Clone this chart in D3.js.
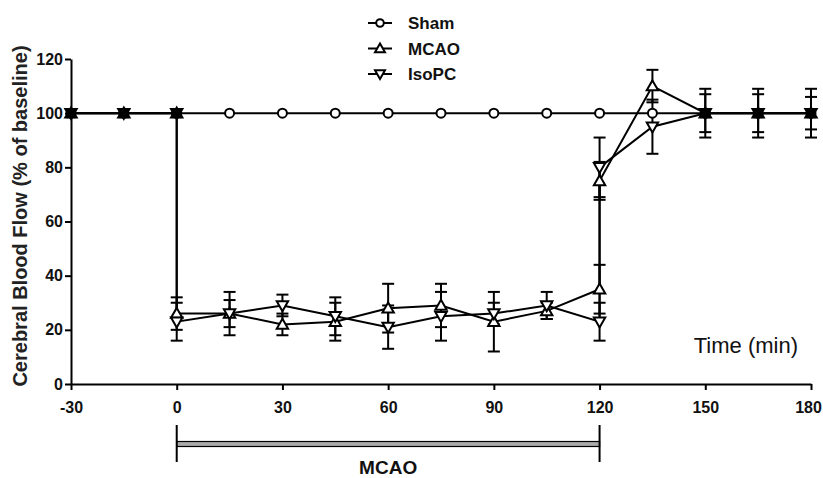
<!DOCTYPE html>
<html>
<head>
<meta charset="utf-8">
<script src="https://cdn.jsdelivr.net/npm/d3@7"></script>
<style>
  body { margin: 0; background: #fff; }
  svg { display: block; font-family: Arial, "Liberation Sans", sans-serif; }
</style>
</head>
<body>
<div id="chart"></div>
<script>
// time points (min); 0 and 120 appear twice for MCAO / IsoPC (before / after)
var shamTimes = [-30, -15, 0, 15, 30, 45, 60, 75, 90, 105, 120, 135, 150, 165, 180];
var shamMean  = [100, 100, 100, 100, 100, 100, 100, 100, 100, 100, 100, 100, 100, 100, 100];
var shamErr   = [0, 0, 0, 0, 0, 0, 0, 0, 0, 0, 0, 0, 0, 0, 0];

var ischTimes = [-30, -15, 0, 0, 15, 30, 45, 60, 75, 90, 105, 120, 120, 135, 150, 165, 180];
var mcaoMean  = [100, 100, 100, 26, 26, 22, 23, 28, 29, 23, 27, 35, 75, 110, 100, 100, 100];
var mcaoErr   = [0, 0, 0, 6, 5, 4, 7, 9, 8, 11, 3, 9, 7, 6, 7, 7, 6];
var isoMean   = [100, 100, 100, 23, 26, 29, 25, 21, 25, 26, 29, 23, 80, 95, 100, 100, 100];
var isoErr    = [0, 0, 0, 7, 8, 4, 7, 8, 9, 4, 5, 7, 11, 10, 9, 9, 9];

var xTicks = [-30, 0, 30, 60, 90, 120, 150, 180];
var yTicks = [0, 20, 40, 60, 80, 100, 120];
var mcaoPeriod = [0, 120];

var width = 823, height = 478;
var margin = {top: 59, right: 12, bottom: 94, left: 71};

var svg = d3.select('#chart').append('svg')
    .attr('width', width)
    .attr('height', height);

var x = d3.scaleLinear().domain([-30, 180]).range([margin.left, width - margin.right]);
var y = d3.scaleLinear().domain([0, 120]).range([height - margin.bottom, margin.top]);

function build(times, mean, err) {
    return times.map(function(t, i) { return {t: t, v: mean[i], e: err[i]}; });
}

var series = [
    {name: 'Sham', shape: 'circle', data: build(shamTimes, shamMean, shamErr)},
    {name: 'MCAO', shape: 'up', data: build(ischTimes, mcaoMean, mcaoErr)},
    {name: 'IsoPC', shape: 'down', data: build(ischTimes, isoMean, isoErr)}
];

// axes (plain hyphen for negatives, like the original)
var fmt = function(d) { return String(d); };
var yAxis = svg.append('g')
    .attr('transform', 'translate(' + margin.left + ',0)')
    .call(d3.axisLeft(y).tickValues(yTicks).tickFormat(fmt).tickSize(6).tickSizeOuter(0).tickPadding(2));
var xAxis = svg.append('g')
    .attr('transform', 'translate(0,' + y(0) + ')')
    .call(d3.axisBottom(x).tickValues(xTicks).tickFormat(fmt).tickSize(6).tickSizeOuter(0).tickPadding(12));

[xAxis, yAxis].forEach(function(a) {
    a.selectAll('path, line').attr('stroke', '#000').attr('stroke-width', 2);
    a.selectAll('text').attr('fill', '#111').style('font-size', '16px').style('font-weight', 'bold');
});
// last label sits against the right edge
xAxis.selectAll('.tick text')
    .filter(function(d) { return d === 180; })
    .attr('dx', -3);

// markers
function marker(g, shape, r) {
    if (shape === 'circle') {
        g.append('circle').attr('r', r);
    } else {
        var s = r + 1.2;
        var p = shape === 'up'
            ? [[0, -s], [s, s * 0.75], [-s, s * 0.75]]
            : [[0, s], [s, -s * 0.75], [-s, -s * 0.75]];
        g.append('path').attr('d', 'M' + p.join('L') + 'Z');
    }
    g.selectAll('circle, path')
        .attr('fill', '#fff')
        .attr('stroke', '#000')
        .attr('stroke-width', 2);
}

var line = d3.line()
    .x(function(d) { return x(d.t); })
    .y(function(d) { return y(d.v); });

var plot = svg.append('g');

series.forEach(function(s) {
    plot.append('path')
        .datum(s.data)
        .attr('d', line)
        .attr('fill', 'none')
        .attr('stroke', '#000')
        .attr('stroke-width', 2);
});

series.forEach(function(s) {
    var bars = plot.append('g').selectAll('g')
        .data(s.data.filter(function(d) { return d.e > 0; }))
        .join('g')
        .attr('stroke', '#000')
        .attr('stroke-width', 2);
    bars.append('line')
        .attr('x1', function(d) { return x(d.t); })
        .attr('x2', function(d) { return x(d.t); })
        .attr('y1', function(d) { return y(d.v + d.e); })
        .attr('y2', function(d) { return y(d.v - d.e); });
    [1, -1].forEach(function(k) {
        bars.append('line')
            .attr('x1', function(d) { return x(d.t) - 6; })
            .attr('x2', function(d) { return x(d.t) + 6; })
            .attr('y1', function(d) { return y(d.v + k * d.e); })
            .attr('y2', function(d) { return y(d.v + k * d.e); });
    });
});

series.forEach(function(s) {
    plot.append('g').selectAll('g')
        .data(s.data)
        .join('g')
        .attr('transform', function(d) { return 'translate(' + x(d.t) + ',' + y(d.v) + ')'; })
        .each(function() { marker(d3.select(this), s.shape, 4.5); });
});

// where all groups sit on the same baseline value the symbols merge into a filled square
var merged = shamTimes.filter(function(t, i) {
    return series.every(function(s) {
        return s.data.some(function(d) { return d.t === t && d.v === shamMean[i]; });
    });
});
plot.append('g').selectAll('rect')
    .data(merged)
    .join('rect')
    .attr('x', function(t) { return x(t) - 5; })
    .attr('y', y(100) - 5)
    .attr('width', 10)
    .attr('height', 10)
    .attr('fill', '#000');

// legend
var legend = svg.append('g').attr('transform', 'translate(368,23)');
var items = legend.selectAll('g')
    .data(series)
    .join('g')
    .attr('transform', function(d, i) { return 'translate(0,' + (i * 25.5) + ')'; });
items.append('line')
    .attr('x1', 0).attr('x2', 24)
    .attr('stroke', '#000').attr('stroke-width', 2);
items.append('g')
    .attr('transform', 'translate(12,0)')
    .each(function(d) { marker(d3.select(this), d.shape, 3.8); });
items.append('text')
    .attr('x', 40)
    .attr('dy', '0.36em')
    .style('font-size', '17px')
    .style('font-weight', 'bold')
    .attr('fill', '#111')
    .text(function(d) { return d.name; });

// axis titles
svg.append('text')
    .attr('transform', 'translate(27,216) rotate(-90)')
    .attr('text-anchor', 'middle')
    .style('font-size', '20px')
    .style('font-weight', 'bold')
    .attr('fill', '#222')
    .text('Cerebral Blood Flow (% of baseline)');

svg.append('text')
    .attr('x', 798)
    .attr('y', 353)
    .attr('text-anchor', 'end')
    .style('font-size', '22px')
    .attr('fill', '#111')
    .text('Time (min)');

// MCAO period bracket
var bracket = svg.append('g').attr('stroke', '#000');
var by = 444;
bracket.append('rect')
    .attr('x', x(mcaoPeriod[0]))
    .attr('y', by - 2.5)
    .attr('width', x(mcaoPeriod[1]) - x(mcaoPeriod[0]))
    .attr('height', 5)
    .attr('fill', '#aaa')
    .attr('stroke-width', 1.2);
bracket.selectAll('line.end')
    .data(mcaoPeriod)
    .join('line')
    .attr('class', 'end')
    .attr('x1', function(d) { return x(d); })
    .attr('x2', function(d) { return x(d); })
    .attr('y1', by - 19)
    .attr('y2', by + 18)
    .attr('stroke-width', 2);

svg.append('text')
    .attr('x', (x(mcaoPeriod[0]) + x(mcaoPeriod[1])) / 2)
    .attr('y', 474)
    .attr('text-anchor', 'middle')
    .style('font-size', '19px')
    .style('font-weight', 'bold')
    .attr('fill', '#111')
    .text('MCAO');
</script>
</body>
</html>
